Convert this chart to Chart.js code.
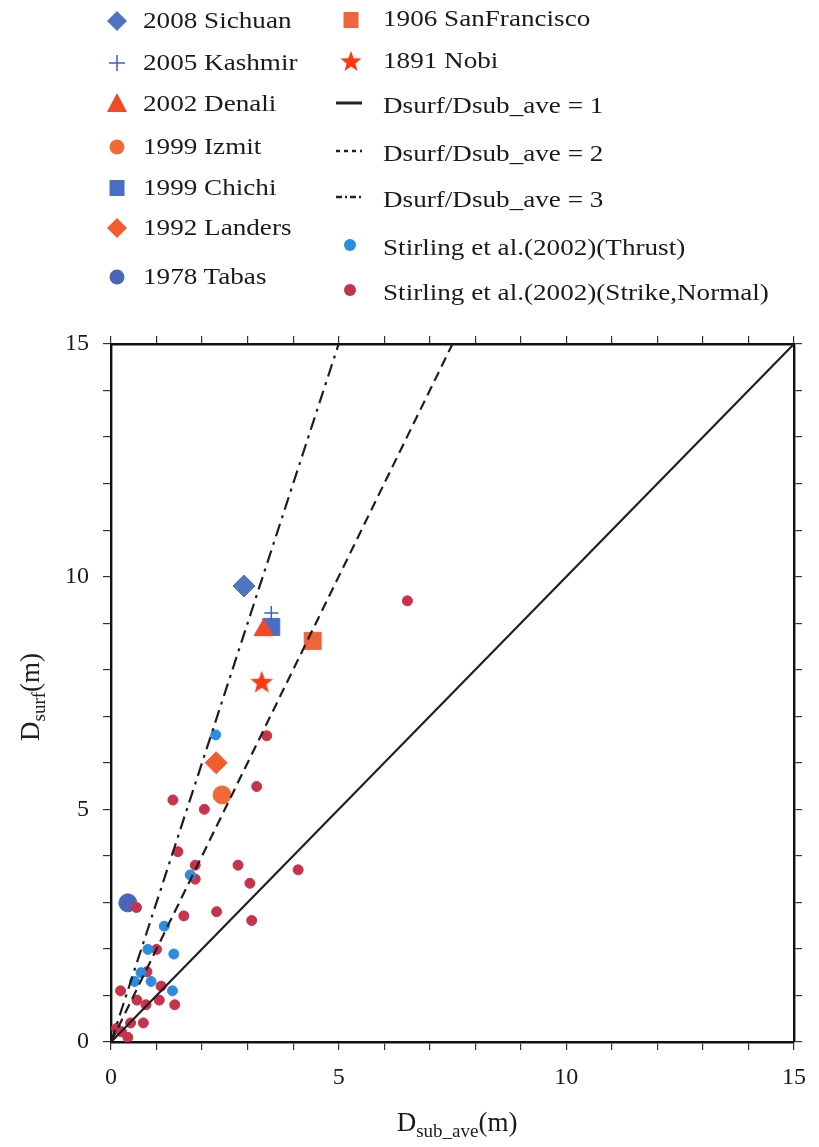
<!DOCTYPE html>
<html><head><meta charset="utf-8">
<script src="https://cdn.jsdelivr.net/npm/chart.js@4.4.1/dist/chart.umd.min.js"></script>
<style>
html,body{margin:0;padding:0;background:#fff;}
#wrap{position:relative;width:819px;height:1147px;overflow:hidden;font-family:"Liberation Serif","Times New Roman",serif;color:#1a1a1a;}
#c{position:absolute;left:0;top:0;}
.mk{position:absolute;width:28px;height:28px;}
.lt{position:absolute;font-size:23px;line-height:30px;height:30px;white-space:nowrap;transform:scaleX(1.18);transform-origin:left center;}
.ax{position:absolute;font-size:27px;white-space:nowrap;line-height:30px;}
.ax sub{font-size:19px;vertical-align:-6px;line-height:0;}
</style></head>
<body><div id="wrap"><canvas id="c" width="819" height="1147"></canvas><div id="legend"></div>
<div class="ax" id="ytitle">D<sub>surf</sub>(m)</div>
<div class="ax" id="xtitle">D<sub>sub_ave</sub>(m)</div>
</div>
<script>
// ---------- data ----------
const eventNames  = ['2008 Sichuan','2005 Kashmir','2002 Denali','1999 Izmit','1999 Chichi','1992 Landers','1978 Tabas','1906 SanFrancisco','1891 Nobi'];
const eventX      = [2.92, 3.52, 3.35, 2.44, 3.52, 2.31, 0.37, 4.43, 3.31];
const eventY      = [9.80, 9.22, 8.85, 5.31, 8.92, 6.00, 2.99, 8.62, 7.72];
const eventStyle  = ['rectRot','cross','triangle','circle','rect','rectRot','circle','rect','star'];
const eventColor  = ['#4f74c2','#3b62c8','#f04a28','#f26a38','#4a6fc2','#f25c30','#4a66b8','#f0643c','#ff3a12'];
const eventRadius = [11, 7, 11, 9, 12, 11, 9, 12, 12];

const thrustX = [2.30, 1.74, 1.17, 0.81, 1.38, 0.66, 0.52, 0.88, 1.35];
const thrustY = [6.60, 3.59, 2.49, 1.99, 1.89, 1.49, 1.30, 1.30, 1.10];

const strikeX = [6.51, 3.42, 3.20, 1.36, 2.05, 1.47, 1.85, 1.85, 2.79, 3.05, 4.11, 0.56, 1.60, 2.32, 3.09, 1.00, 0.79, 1.10, 0.21, 1.06, 0.57, 0.77, 1.40, 0.43, 0.71, 0.12, 0.23, 0.37];
const strikeY = [9.48, 6.58, 5.49, 5.20, 5.00, 4.09, 3.80, 3.50, 3.80, 3.41, 3.70, 2.89, 2.71, 2.80, 2.61, 1.99, 1.51, 1.20, 1.10, 0.90, 0.90, 0.80, 0.80, 0.41, 0.41, 0.29, 0.22, 0.10];

const lineRatios = [1, 2, 3];
const lineLabels = ['Dsurf/Dsub_ave = 1','Dsurf/Dsub_ave = 2','Dsurf/Dsub_ave = 3'];
const lineDash   = [[], [10, 6], [13, 6, 3, 6]];
const axisMin = 0, axisMax = 15;
const tickLabels = [0, 5, 10, 15];

const thrustColor = '#2b8de0';
const strikeColor = '#c8334b';

// ---------- star image ----------
function starCanvas(r, color){
  const s = Math.ceil(r*2+2), cv = document.createElement('canvas');
  cv.width = s; cv.height = s;
  const g = cv.getContext('2d'); g.fillStyle = color; g.beginPath();
  for(let i=0;i<10;i++){
    const a = -Math.PI/2 + i*Math.PI/5, rr = i%2===0 ? r : r*0.42;
    g.lineTo(s/2 + rr*Math.cos(a), s/2 + rr*Math.sin(a));
  }
  g.closePath(); g.fill(); return cv;
}

// ---------- datasets ----------
const datasets = [];
lineRatios.forEach((r,i)=>{
  datasets.push({type:'line', label: lineLabels[i],
    data:[{x:axisMin,y:axisMin},{x:axisMax/r,y:axisMax}],
    borderColor:'#1e1e1e', borderWidth:2.2, borderDash: lineDash[i], pointRadius:0, fill:false, tension:0});
});
datasets.push({label:'Stirling et al.(2002)(Thrust)', data: thrustX.map((x,i)=>({x, y:thrustY[i]})),
  pointStyle:'circle', pointRadius:5, backgroundColor: thrustColor, borderColor: thrustColor, borderWidth:1});
datasets.push({label:'Stirling et al.(2002)(Strike,Normal)', data: strikeX.map((x,i)=>({x, y:strikeY[i]})),
  pointStyle:'circle', pointRadius:5, backgroundColor: strikeColor, borderColor: strikeColor, borderWidth:1});
eventNames.forEach((n,i)=>{
  const st = eventStyle[i] === 'star' ? starCanvas(eventRadius[i], eventColor[i]) : eventStyle[i];
  datasets.push({label:n, data:[{x:eventX[i], y:eventY[i]}], pointStyle: st, pointRadius: eventRadius[i],
    backgroundColor: eventColor[i], borderColor: eventColor[i], borderWidth: eventStyle[i]==='cross' ? 1.5 : 1});
});

const tickFont = {family:'"Liberation Serif", "Times New Roman", serif', size:24};
function axisOpts(pos, showLabels, fit){
  return {type:'linear', position:pos, min:axisMin, max:axisMax, display:true,
    ticks:{display:showLabels, stepSize:1, autoSkip:false, maxRotation:0, color:'#1a1a1a', font:tickFont,
      padding: pos==='left' ? 14 : 13,
      callback: v => tickLabels.includes(v) ? String(v) : ''},
    grid:{drawOnChartArea:false, drawTicks:true, tickLength:8, color:'#333', lineWidth:1.2},
    border:{display:true, color:'#111', width:2.4},
    afterFit: fit};
}

new Chart(document.getElementById('c'), {
  type:'scatter',
  data:{datasets},
  options:{
    responsive:false, animation:false, devicePixelRatio:1,
    layout:{padding:{top:334, left:0, right:0, bottom:0}},
    plugins:{legend:{display:false}, tooltip:{enabled:false}},
    scales:{
      x: axisOpts('bottom', true, s=>{s.height=105;}),
      x2: Object.assign(axisOpts('top', false, s=>{s.height=10;}), {axis:'x'}),
      y: axisOpts('left', true, s=>{s.width=111;}),
      y2: Object.assign(axisOpts('right', false, s=>{s.width=14;}), {axis:'y'})
    }
  }
});

// ---------- legend (HTML) ----------
function svgMarker(style, color){
  const c = 14;
  let inner = '';
  if(style==='rectRot') inner = `<polygon points="${c},${c-10} ${c+10},${c} ${c},${c+10} ${c-10},${c}" fill="${color}"/>`;
  else if(style==='cross') inner = `<path d="M${c-8} ${c}H${c+8}M${c} ${c-8}V${c+8}" stroke="${color}" stroke-width="1.5"/>`;
  else if(style==='triangle') inner = `<polygon points="${c},${c-11} ${c+10},${c+8} ${c-10},${c+8}" fill="${color}"/>`;
  else if(style==='circle') inner = `<circle cx="${c}" cy="${c}" r="7.5" fill="${color}"/>`;
  else if(style==='smallcircle') inner = `<circle cx="${c}" cy="${c}" r="6" fill="${color}"/>`;
  else if(style==='rect') inner = `<rect x="${c-7.5}" y="${c-8}" width="15" height="16" fill="${color}"/>`;
  else if(style==='star'){
    let p=[]; for(let i=0;i<10;i++){const a=-Math.PI/2+i*Math.PI/5, rr=i%2===0?11:4.6; p.push((c+rr*Math.cos(a)).toFixed(1)+','+(c+rr*Math.sin(a)).toFixed(1));}
    inner = `<polygon points="${p.join(' ')}" fill="${color}"/>`;
  }
  else if(style.startsWith('line')){
    const d = style==='line1' ? '' : style==='line2' ? 'stroke-dasharray="4 4"' : 'stroke-dasharray="6 3 2 3"';
    inner = `<line x1="1" y1="${c}" x2="27" y2="${c}" stroke="#222" stroke-width="${style==='line1'?3:2.4}" ${d}/>`;
  }
  return `<svg width="28" height="28" viewBox="0 0 28 28">${inner}</svg>`;
}
const leg = document.getElementById('legend');
function addItem(mx, my, tx, ty, style, color, text){
  const m = document.createElement('div'); m.className='mk'; m.style.left=(mx-14)+'px'; m.style.top=(my-14)+'px';
  m.innerHTML = svgMarker(style, color); leg.appendChild(m);
  const t = document.createElement('div'); t.className='lt'; t.style.left=tx+'px'; t.style.top=(ty-15)+'px';
  t.textContent = text; leg.appendChild(t);
}
const col1Rows = [21, 63, 104, 147, 188, 228, 277];
[0,1,2,3,4,5,6].forEach((k,i)=> addItem(117, col1Rows[i], 143, col1Rows[i], eventStyle[k], eventColor[k], eventNames[k]));
addItem(351, 20, 383, 19, 'rect', eventColor[7], eventNames[7]);
addItem(351, 62, 383, 61, 'star', eventColor[8], eventNames[8]);
const lineRows = [103, 151, 197];
lineLabels.forEach((l,i)=> addItem(349, lineRows[i], 383, lineRows[i]+3, 'line'+(i+1), '#222', l));
addItem(350, 245, 383, 248, 'smallcircle', thrustColor, 'Stirling et al.(2002)(Thrust)');
addItem(350, 290, 383, 293, 'smallcircle', strikeColor, 'Stirling et al.(2002)(Strike,Normal)');

// axis titles
const yt = document.getElementById('ytitle');
yt.style.left = '30px'; yt.style.top = '697px';
yt.style.transform = 'translate(-50%,-50%) rotate(-90deg)';
const xt = document.getElementById('xtitle');
xt.style.left = '457px'; xt.style.top = '1122px';
xt.style.transform = 'translate(-50%,-50%)';
</script></body></html>
